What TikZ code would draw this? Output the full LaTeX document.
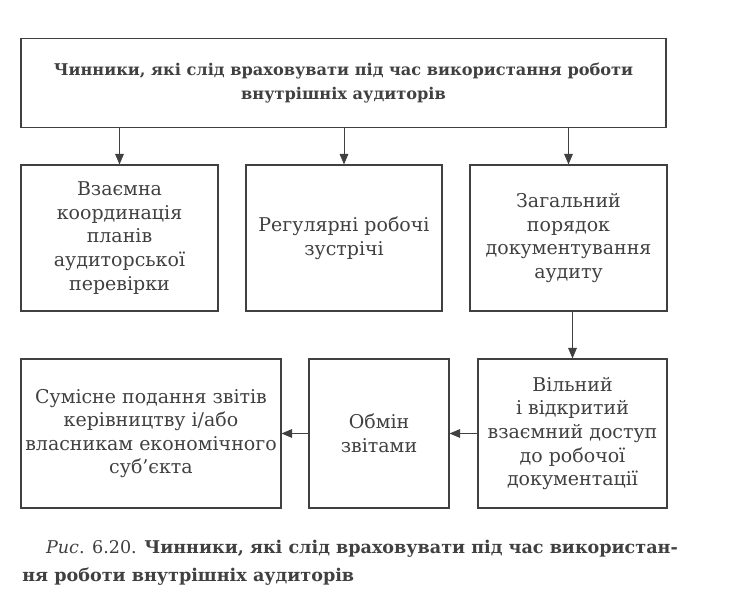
\documentclass[tikz,border=0pt]{standalone}
\usepackage{fontspec}
\setmainfont{DejaVu Serif}
\usetikzlibrary{arrows.meta}
\definecolor{ink}{gray}{0.25}

\begin{document}
\begin{tikzpicture}[
    box/.style={draw=ink, line width=0.7pt, align=center, text=ink,
      font=\fontsize{10.8}{13.4}\selectfont, inner sep=2pt},
    link/.style={draw=ink, line width=0.4pt, -{Triangle[length=6pt,width=5pt]}}
  ]
  \useasboundingbox (0,0) rectangle (14.66,12.16);

  % heading
  \node [box, minimum width=12.9cm, minimum height=1.78cm,
    font=\bfseries\fontsize{9.2}{13.6}\selectfont] (head) at (6.87,10.50)
    {Чинники, які слід враховувати під час використання роботи\\внутрішніх аудиторів};

  % second row
  \node [box, minimum width=3.94cm, minimum height=2.92cm] (coord) at (2.39,7.40)
    {Взаємна\\координація\\планів\\аудиторської\\перевірки};
  \node [box, minimum width=3.92cm, minimum height=2.92cm] (meet) at (6.88,7.40)
    {Регулярні робочі\\зустрічі};
  \node [box, minimum width=3.94cm, minimum height=2.92cm] (docs) at (11.37,7.40)
    {Загальний\\порядок\\документування\\аудиту};

  % third row
  \node [box, minimum width=3.78cm, minimum height=2.98cm] (access) at (11.45,3.49)
    {Вільний\\і відкритий\\взаємний доступ\\до робочої\\документації};
  \node [box, minimum width=2.80cm, minimum height=2.98cm] (swap) at (7.58,3.49)
    {Обмін\\звітами};
  \node [box, minimum width=5.20cm, minimum height=2.98cm] (report) at (3.02,3.49)
    {Сумісне подання звітів\\керівництву і/або\\власникам економічного\\суб'єкта};

  \draw [link] (head.south -| coord.north) -- (coord.north);
  \draw [link] (head.south -| meet.north) -- (meet.north);
  \draw [link] (head.south -| docs.north) -- (docs.north);
  \draw [link] (docs.south -| access.north) -- (access.north);
  \draw [link] (access.west) -- (swap.east);
  \draw [link] (swap.west) -- (report.east);

  % caption
  \node [anchor=north west, align=left, text=ink, inner sep=0pt,
    font=\fontsize{10}{15.6}\selectfont] (caption) at (0.44,1.36)
    {\hspace*{1.35em}\textit{Рис}. 6.20. \textbf{Чинники, які слід враховувати під час використан-}\\
     \textbf{ня роботи внутрішніх аудиторів}};
\end{tikzpicture}
\end{document}
